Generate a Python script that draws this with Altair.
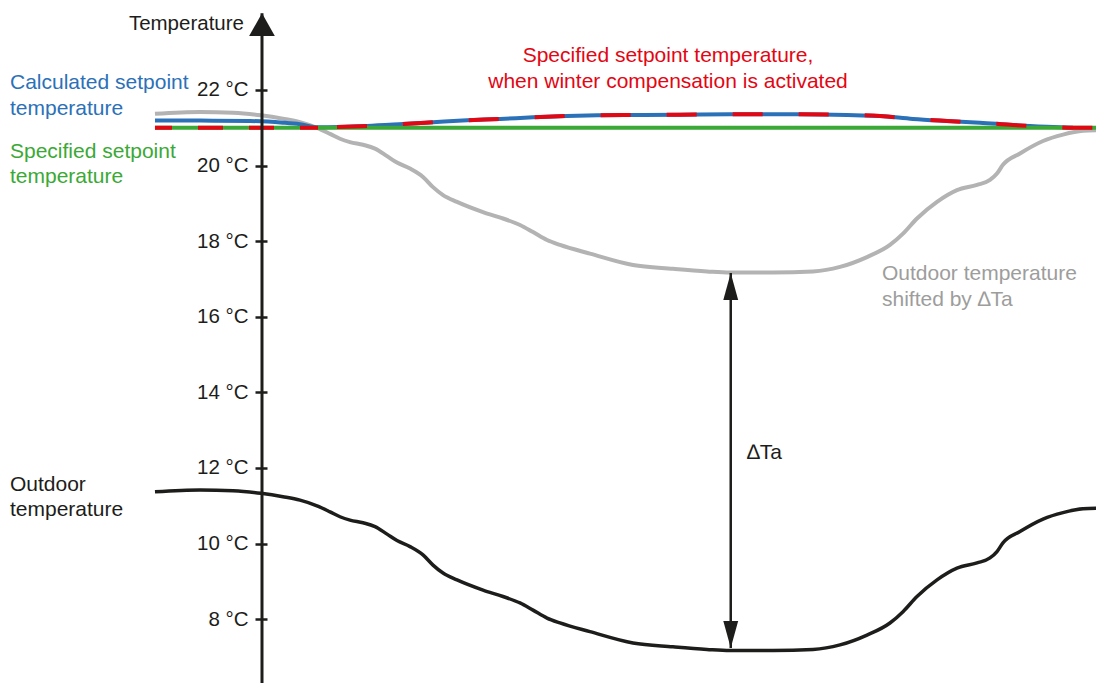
import altair as alt
import pandas as pd

FONT = "Liberation Sans, Arial, Helvetica, sans-serif"
BLACK = "#1d1d1b"
BLUE = "#2b71b8"
RED = "#e30613"
GREEN = "#3aa935"
GRAY_LINE = "#b3b3b3"
GRAY_TEXT = "#9d9d9c"

# time (arbitrary units, 0 = y axis) and temperatures
time_outdoor = [-12.71, -7.36, -3.44, -0.12, 2.49, 4.51, 6.53, 8.08, 9.26, 10.45, 12.0, 13.42,
                14.85, 16.03, 17.58, 19.12, 20.31, 21.5, 23.16, 26.25, 28.62, 30.64, 32.19, 33.85,
                35.39, 38.95, 44.06, 48.81, 52.85, 55.58, 60.69, 65.44, 68.65, 71.85, 74.58, 76.13,
                77.79, 80.17, 82.54, 84.92, 86.46, 87.29, 88.0, 90.02, 92.76, 95.13, 97.51, 100.0]
temp_outdoor = [11.37, 11.42, 11.40, 11.33, 11.24, 11.15, 11.00, 10.84, 10.71, 10.62, 10.55, 10.45,
                10.25, 10.08, 9.92, 9.70, 9.43, 9.22, 9.04, 8.77, 8.60, 8.43, 8.24, 8.03,
                7.90, 7.67, 7.37, 7.27, 7.20, 7.17, 7.17, 7.20, 7.32, 7.58, 7.90, 8.20,
                8.60, 9.04, 9.35, 9.49, 9.62, 9.79, 10.02, 10.32, 10.65, 10.82, 10.92, 10.94]
temp_shifted = [21.37, 21.42, 21.40, 21.33, 21.24, 21.15, 21.00, 20.84, 20.71, 20.62, 20.55, 20.45,
                20.25, 20.08, 19.92, 19.70, 19.43, 19.22, 19.04, 18.77, 18.60, 18.43, 18.24, 18.03,
                17.90, 17.67, 17.37, 17.27, 17.20, 17.17, 17.17, 17.20, 17.32, 17.58, 17.90, 18.20,
                18.60, 19.04, 19.35, 19.49, 19.62, 19.79, 20.02, 20.32, 20.65, 20.82, 20.92, 20.94]

time_calc = [-12.71, -7.36, -1.43, 2.49, 4.51, 6.65, 12.47, 16.75, 20.31, 24.35, 28.27, 32.19,
             36.22, 40.14, 44.06, 49.64, 55.58, 63.54, 69.48, 73.40, 77.32, 81.35, 85.27, 89.19,
             93.23, 96.32]
temp_calc = [21.19, 21.19, 21.18, 21.135, 21.093, 21.013, 21.048, 21.10, 21.146, 21.198, 21.233, 21.278,
             21.312, 21.331, 21.339, 21.347, 21.357, 21.357, 21.339, 21.312, 21.233, 21.18, 21.135, 21.074,
             21.029, 21.003]

time_comp_flat = [-12.71, 6.65]
temp_comp_flat = [21.0, 21.0]
time_comp = [6.65, 12.47, 16.75, 20.31, 24.35, 28.27, 32.19, 36.22, 40.14, 44.06, 49.64, 55.58,
             63.54, 69.48, 73.40, 77.32, 81.35, 85.27, 89.19, 93.23, 96.32, 100.0]
temp_comp = [21.013, 21.048, 21.10, 21.146, 21.198, 21.233, 21.278, 21.312, 21.331, 21.339, 21.347, 21.357,
             21.357, 21.339, 21.312, 21.233, 21.18, 21.135, 21.074, 21.029, 21.003, 21.0]

time_setpoint = [-12.71, 100.0]
temp_setpoint = [21.0, 21.0]

delta_time = [55.67]
delta_high = [17.16]
delta_low = [7.24]

axis_time = [0.0]
axis_top = [24.03]
axis_bottom = [6.312]

tick_values = [8, 10, 12, 14, 16, 18, 20, 22]

X_SCALE = alt.Scale(domain=[0.594, 99.05], nice=False, zero=False)
Y_SCALE = alt.Scale(domain=[6.312, 24.169], nice=False, zero=False)
Y_AXIS = alt.Axis(values=tick_values, labelExpr="datum.value + ' °C'", title=None, domain=False,
                  grid=False, offset=0, tickSize=12, tickWidth=2.5, tickColor=BLACK,
                  labelPadding=7, labelFont=FONT, labelFontSize=20.5, labelColor=BLACK,
                  labelAlign="right", labelBaseline="middle")


def xq(field):
    return alt.X(f"{field}:Q", scale=X_SCALE, axis=None)


def yq(field):
    return alt.Y(f"{field}:Q", scale=Y_SCALE, axis=Y_AXIS)


df_out = pd.DataFrame({"t": time_outdoor, "outdoor": temp_outdoor, "shifted": temp_shifted})
df_calc = pd.DataFrame({"t": time_calc, "T": temp_calc})
df_flat = pd.DataFrame({"t": time_comp_flat, "T": temp_comp_flat})
df_comp = pd.DataFrame({"t": time_comp, "T": temp_comp})
df_set = pd.DataFrame({"t": time_setpoint, "T": temp_setpoint})
df_delta = pd.DataFrame({"t": delta_time, "hi": delta_high, "lo": delta_low})
df_axis = pd.DataFrame({"t": axis_time, "top": axis_top, "bottom": axis_bottom})

gray = alt.Chart(df_out).mark_line(color=GRAY_LINE, strokeWidth=4, interpolate="monotone").encode(
    x=xq("t"), y=yq("shifted"))
blue = alt.Chart(df_calc).mark_line(color=BLUE, strokeWidth=4, interpolate="monotone").encode(
    x=xq("t"), y=yq("T"))
green = alt.Chart(df_set).mark_line(color=GREEN, strokeWidth=4).encode(x=xq("t"), y=yq("T"))
red_flat = alt.Chart(df_flat).mark_line(color=RED, strokeWidth=4, strokeDash=[25, 26],
                                        strokeDashOffset=8).encode(x=xq("t"), y=yq("T"))
red_main = alt.Chart(df_comp).mark_line(color=RED, strokeWidth=4, strokeDash=[30, 36],
                                        strokeDashOffset=47, interpolate="monotone").encode(
    x=xq("t"), y=yq("T"))
black = alt.Chart(df_out).mark_line(color=BLACK, strokeWidth=3.5, interpolate="monotone").encode(
    x=xq("t"), y=yq("outdoor"))

axis_line = alt.Chart(df_axis).mark_rule(color=BLACK, strokeWidth=3).encode(
    x=xq("t"), y=yq("top"), y2="bottom:Q")
axis_arrow = alt.Chart(df_axis).mark_point(
    shape="M0,0L-1,1.77L1,1.77Z", size=660, filled=True, color=BLACK, opacity=1, strokeWidth=0
).encode(x=xq("t"), y=yq("top"))

delta_rule = alt.Chart(df_delta).mark_rule(color=BLACK, strokeWidth=2.5).encode(
    x=xq("t"), y=yq("hi"), y2="lo:Q")
arrow_up = alt.Chart(df_delta).mark_point(
    shape="M0,0L-0.55,2L0.55,2Z", size=729, filled=True, color=BLACK, opacity=1, strokeWidth=0
).encode(x=xq("t"), y=yq("hi"))
arrow_down = alt.Chart(df_delta).mark_point(
    shape="M0,0L-0.55,-2L0.55,-2Z", size=729, filled=True, color=BLACK, opacity=1, strokeWidth=0
).encode(x=xq("t"), y=yq("lo"))


def label(lines, t, T, color, align="left", size=21):
    return alt.Chart(pd.DataFrame({"t": [t], "T": [T]})).mark_text(
        text=lines, align=align, baseline="alphabetic", font=FONT, fontSize=size,
        color=color, lineHeight=25.5
    ).encode(x=xq("t"), y=yq("T"))


texts = [
    label(["Temperature"], -2.14, 23.60, BLACK, align="right", size=20.5),
    label(["Calculated setpoint", "temperature"], -29.93, 22.02, BLUE),
    label(["Specified setpoint", "temperature"], -29.93, 20.21, GREEN),
    label(["Specified setpoint temperature,", "when winter compensation is activated"], 48.22, 22.73,
          RED, align="center"),
    label(["Outdoor temperature", "shifted by ∆Ta"], 73.63, 16.97, GRAY_TEXT),
    label(["Outdoor", "temperature"], -29.93, 11.40, BLACK),
    label(["∆Ta"], 57.60, 12.24, BLACK),
]

chart = alt.layer(
    gray, blue, green, red_flat, red_main, black, axis_line, axis_arrow,
    delta_rule, arrow_up, arrow_down, *texts
).properties(
    width=829, height=675, autosize=alt.AutoSizeParams(type="none"),
    padding={"left": 259, "top": 0, "right": 0, "bottom": 0},
    background="white"
).configure_view(stroke=None)

chart.save("out.html", embed_options={"renderer": "svg", "actions": False})
